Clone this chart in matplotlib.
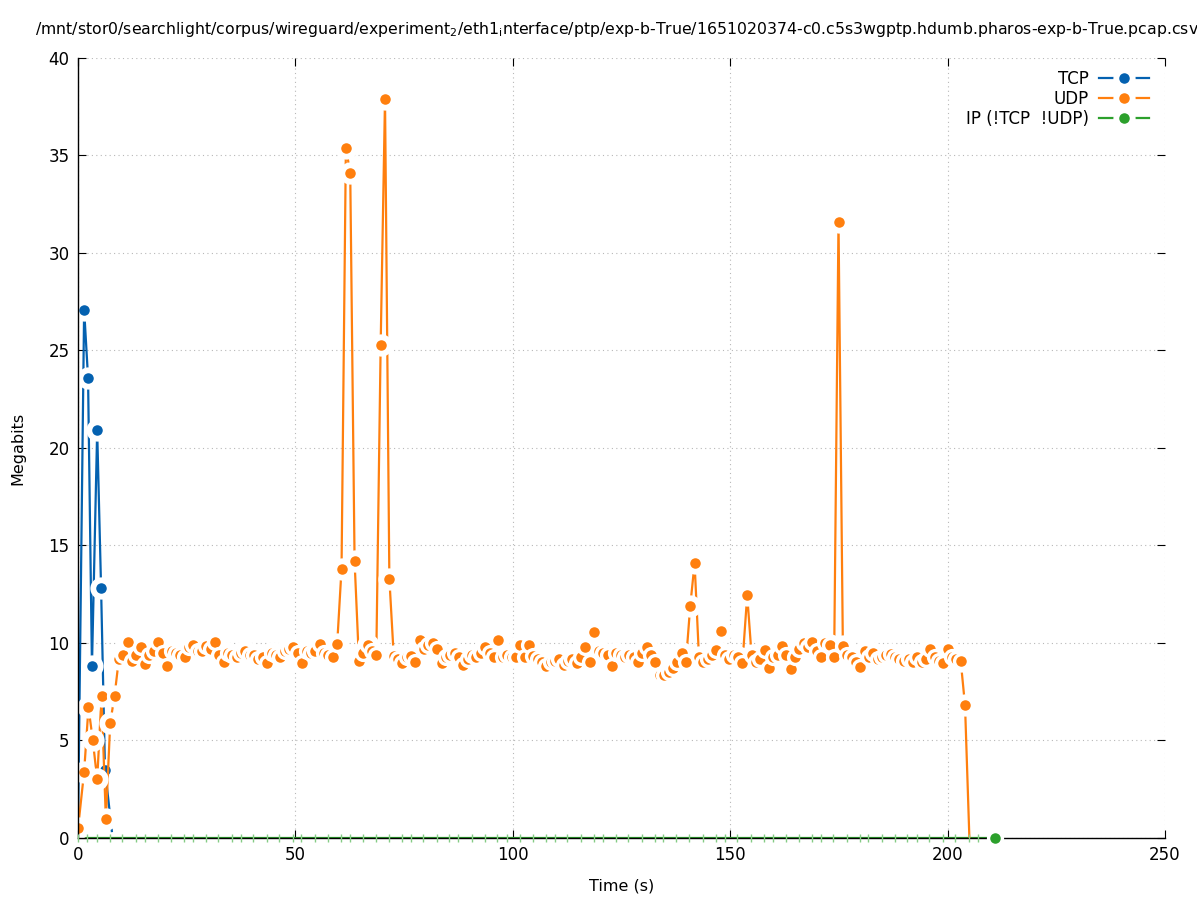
import matplotlib
matplotlib.use("Agg")
import matplotlib.pyplot as plt
from matplotlib.legend_handler import HandlerTuple

plt.rcParams['font.family'] = ['DejaVu Sans']
plt.rcParams['mathtext.default'] = 'regular'

# ---------------- data ----------------
title_text = ("/mnt/stor0/searchlight/corpus/wireguard/experiment$_2$/eth1$_i$nterface/ptp/"
              "exp-b-True/1651020374-c0.c5s3wgptp.hdumb.pharos-exp-b-True.pcap.csv")
series_names = ["TCP", "UDP", "IP (!TCP  !UDP)"]

tcp_time = [0.0, 1.4, 2.3, 3.2, 4.4, 5.3, 6.2, 7.8]
tcp_mbits = [0.6, 27.1, 23.6, 8.8, 20.9, 12.8, 3.5, 0.3]

udp_time = [
    0.0,
    1.4, 2.4, 3.4, 4.4, 5.4, 6.4, 7.4, 8.4, 9.4, 10.4, 11.4, 12.4, 13.4, 14.4, 15.4, 16.4, 17.4,
    18.5, 19.5, 20.5, 21.5, 22.5, 23.5, 24.5, 25.5, 26.5, 27.5, 28.5, 29.5, 30.5, 31.5, 32.5,
    33.5, 34.5, 35.5, 36.5, 37.5, 38.5, 39.5, 40.5, 41.5, 42.5, 43.5, 44.5, 45.5, 46.5, 47.5,
    48.5, 49.5, 50.5, 51.5,
    52.6, 53.6, 54.6, 55.6, 56.6, 57.6, 58.6, 59.6, 60.6, 61.6, 62.6, 63.6, 64.6, 65.6, 66.6,
    67.6, 68.6, 69.6, 70.6, 71.6, 72.6, 73.6, 74.6, 75.6, 76.6, 77.6, 78.6, 79.6, 80.6, 81.6,
    82.6, 83.6, 84.6, 85.6, 86.6, 87.6, 88.6, 89.6, 90.6, 91.6,
    92.7, 93.7, 94.7, 95.7, 96.7, 97.7, 98.7, 99.7, 100.7, 101.7, 102.7, 103.7, 104.7, 105.7,
    106.7, 107.7, 108.7, 109.7, 110.7, 111.7, 112.7, 113.7, 114.7, 115.7, 116.7, 117.7, 118.7,
    119.8, 120.8, 121.8, 122.8, 123.8, 124.8, 125.8, 126.8, 127.8, 128.8, 129.8, 130.8, 131.8,
    132.8, 133.8, 134.8, 135.8, 136.8, 137.8, 138.8, 139.8, 140.8, 141.8, 142.8, 143.8, 144.8,
    145.8, 146.8, 147.8, 148.8, 149.8, 150.8, 151.8, 152.8,
    153.9, 154.9, 155.9, 156.9, 157.9, 158.9, 159.9, 160.9, 161.9, 162.9, 163.9, 164.9, 165.9,
    166.9, 167.9, 168.9, 169.9, 170.9, 171.9, 172.9, 173.9, 174.9, 175.9, 176.9, 177.9, 178.9,
    179.9, 180.9, 181.9, 182.9, 183.9, 184.9, 185.9, 186.9, 187.9, 188.9, 189.9,
    191.0, 192.0, 193.0, 194.0, 195.0, 196.0, 197.0, 198.0, 199.0, 200.0, 201.0, 202.0, 203.0,
    204.0, 205.0,
]
udp_mbits = [
    0.5,
    3.4, 6.7, 5.0, 3.0, 7.3, 0.95, 5.9, 7.3, 9.2, 9.4, 10.05, 9.1, 9.4, 9.8, 8.9, 9.4, 9.6,
    10.05, 9.5, 8.8, 9.6, 9.5, 9.4, 9.3, 9.8, 9.9, 9.6, 9.6, 9.85, 9.7, 10.05, 9.4,
    9.05, 9.5, 9.4, 9.3, 9.5, 9.6, 9.4, 9.4, 9.2, 9.3, 8.95, 9.5, 9.4, 9.3, 9.6,
    9.7, 9.8, 9.5, 8.95,
    9.6, 9.5, 9.6, 9.95, 9.5, 9.4, 9.3, 9.95, 13.8, 35.4, 34.1, 14.2, 9.1, 9.5, 9.9,
    9.6, 9.4, 25.3, 37.9, 13.3, 9.35, 9.2, 8.95, 9.3, 9.35, 9.05, 10.15, 9.7, 9.9, 10.0,
    9.7, 8.95, 9.3, 9.4, 9.5, 9.3, 8.85, 9.2, 9.4, 9.3,
    9.5, 9.8, 9.5, 9.3, 10.15, 9.3, 9.4, 9.3, 9.3, 9.9, 9.3, 9.9, 9.35, 9.2,
    9.05, 8.8, 9.0, 9.1, 9.2, 8.85, 9.1, 9.2, 8.95, 9.3, 9.8, 9.05, 10.55,
    9.6, 9.5, 9.4, 8.8, 9.5, 9.4, 9.3, 9.4, 9.3, 9.05, 9.5, 9.8, 9.4,
    9.05, 8.35, 8.35, 8.5, 8.7, 9.0, 9.5, 9.0, 11.9, 14.1, 9.3, 9.05, 9.2,
    9.4, 9.65, 10.6, 9.4, 9.2, 9.4, 9.3, 8.95,
    12.45, 9.4, 9.0, 9.2, 9.65, 8.7, 9.3, 9.4, 9.85, 9.4, 8.65, 9.3, 9.7,
    10.0, 9.8, 10.05, 9.6, 9.3, 10.0, 9.9, 9.3, 31.6, 9.85, 9.4, 9.3, 9.0,
    8.75, 9.6, 9.3, 9.5, 9.2, 9.3, 9.4, 9.45, 9.3, 9.2, 9.1,
    9.2, 9.0, 9.3, 9.05, 9.2, 9.7, 9.3, 9.1, 8.95, 9.7, 9.3, 9.2, 9.1,
    6.8, 0.0,
]

ip_time = [0.0, 2.0, 4.3, 7.3, 10.2, 13.3, 15.4, 18.3, 21.3, 24.4, 26.4, 29.4, 32.3, 35.3,
           37.4, 40.3, 43.4, 46.3, 49.4, 51.2, 54.5, 57.4, 60.4, 62.5, 65.5, 68.5, 71.6,
           74.4, 76.5, 79.4, 82.5, 85.4, 87.5, 90.6, 93.6, 96.4, 98.6, 101.7, 104.6, 107.6,
           109.7, 112.5, 115.6, 118.7, 120.7, 123.7, 126.6, 129.7, 132.7, 134.6, 137.5,
           140.6, 143.7, 146.7, 148.8, 151.6, 154.7, 157.8, 159.8, 162.8, 165.7, 168.7,
           170.8, 173.7, 176.8, 179.8, 181.7, 184.8, 187.9, 190.7, 192.9, 195.8, 198.9,
           201.8, 204.9, 206.9, 210.9]
ip_mbits = [0.0] * len(ip_time)

x_ticks = [0, 50, 100, 150, 200, 250]
y_ticks = [0, 5, 10, 15, 20, 25, 30, 35, 40]

# ---------------- style ----------------
c_tcp = '#0461b0'
c_udp = '#ff7f0e'
c_ip = '#2ca02c'

fig = plt.figure(figsize=(11.97, 9.0), dpi=100)
ax = fig.add_axes([0.0652, 0.0689, 0.9081, 0.8667])

MS = 10.0     # marker size (pt)
MEW = 2.4     # white ring width
GAP = 16.0    # size of white gap box around points


def draw_series(x, y, color, z, marks=None):
    line, = ax.plot(x, y, color=color, lw=1.6, zorder=z, solid_capstyle='butt')
    gap, = ax.plot(x, y, ls='none', marker='o', ms=GAP, mfc='white', mec='none',
                   zorder=z + 0.1, markevery=marks)
    mk, = ax.plot(x, y, ls='none', marker='o', ms=MS, mfc=color, mec='white', mew=MEW,
                  zorder=z + 0.2, markevery=marks)
    return line, gap, mk


tcp_marks = [i for i, v in enumerate(tcp_mbits) if v > 0.4]
h_tcp = draw_series(tcp_time, tcp_mbits, c_tcp, 3, marks=tcp_marks)
udp_marks = [i for i, v in enumerate(udp_mbits) if v > 0]
h_udp = draw_series(udp_time, udp_mbits, c_udp, 4, marks=udp_marks)

# IP (!TCP !UDP) series along zero
ax.plot(ip_time, ip_mbits, color=c_ip, lw=1.6, zorder=2)
ax.plot(ip_time[:-1], ip_mbits[:-1], ls='none', marker='|', ms=6, mew=1.0,
        color='#86cc86', zorder=6, clip_on=False)
ax.plot(ip_time[-1:], ip_mbits[-1:], ls='none', marker='o', ms=MS, mfc=c_ip, mec='white',
        mew=MEW, zorder=7, clip_on=False)


# legend proxies
def proxy(color):
    ln, = ax.plot([], [], color=color, lw=1.6)
    gp, = ax.plot([], [], ls='none', marker='o', ms=GAP, mfc='white', mec='none')
    mk, = ax.plot([], [], ls='none', marker='o', ms=MS, mfc=color, mec='white', mew=MEW)
    return (ln, gp, mk)


ax.set_xlim(0, 250)
ax.set_ylim(0, 40)
ax.set_xticks(x_ticks)
ax.set_yticks(y_ticks)
ax.tick_params(direction='in', top=True, right=True, length=6, width=0.8,
               labelsize=12, pad=6, color='black')
for s in ['top', 'right']:
    ax.spines[s].set_visible(False)
for s in ['left', 'bottom']:
    ax.spines[s].set_linewidth(1.0)
    ax.spines[s].set_zorder(5)
ax.grid(True, which='major', ls=(0, (1, 3)), color='#b8b8b8', lw=0.8)
ax.set_axisbelow(True)

ax.set_xlabel("Time (s)", fontsize=11.5, labelpad=10)
ax.set_ylabel("Megabits", fontsize=11.5, labelpad=17)
fig.text(0.0292, 0.9667, title_text, ha='left', va='center', fontsize=11.3)

leg = ax.legend([proxy(c_tcp), proxy(c_udp), proxy(c_ip)], series_names,
                handler_map={tuple: HandlerTuple(ndivide=1, pad=0)},
                loc='upper right', bbox_to_anchor=(0.9945, 0.997), frameon=False,
                markerfirst=False, fontsize=12, handlelength=3.0, handletextpad=0.6,
                labelspacing=0.12, borderaxespad=0.2)

fig.savefig("out.png", dpi=100)
